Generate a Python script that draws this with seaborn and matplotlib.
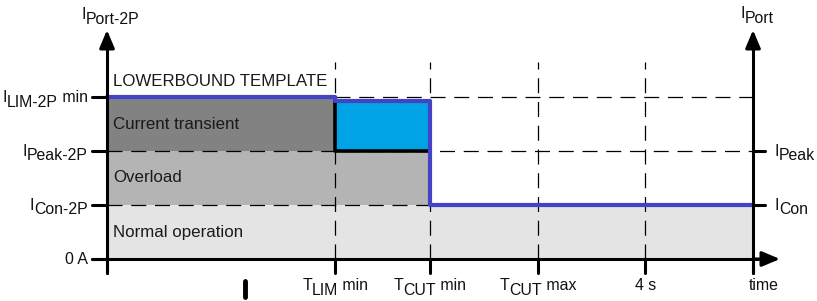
import matplotlib
matplotlib.use("Agg")
import matplotlib.pyplot as plt
import seaborn as sns
from matplotlib.patches import Rectangle

sns.set_theme(style="white")
plt.rcParams['font.family'] = ['Liberation Sans', 'DejaVu Sans']

# ---- data ----
time_pos = [0, 2.12, 3, 4, 5, 6]
time_labels = [None,
               [("T", 0), ("LIM", 5), (" min", 0)],
               [("T", 0), ("CUT", 5), (" min", 0)],
               [("T", 0), ("CUT", 5), (" max", 0)],
               [("4 s", 0)],
               [("time", 0)]]
levels = [0, 1, 2, 3]
left_labels = [[("0 A", 0)],
               [("I", 0), ("Con-2P", 5)],
               [("I", 0), ("Peak-2P", 5)],
               [("I", 0), ("LIM-2P", 5), (" min", 0)]]
right_levels = [1, 2]
right_labels = [[("I", 0), ("Con", 5)], [("I", 0), ("Peak", 5)]]
left_axis_title = [("I", 0), ("Port-2P", 5)]
right_axis_title = [("I", 0), ("Port", 5)]
template_x = [0, 2.12, 2.12, 3, 3, 6]
template_y = [3, 3, 2.93, 2.93, 1, 1]
limit_x = [2.12, 2.12, 3]
limit_y = [3, 2, 2]
region_names = ["Normal operation", "Overload", "Current transient"]
region_x_end = [6, 3, 2.12]
region_colors = ["#e4e4e4", "#b4b4b4", "#828282"]

# ---- figure ----
fig = plt.figure(figsize=(8.17, 3.01), dpi=100)
ax = fig.add_axes([0, 0, 1, 1])
PXX, PXY = 107.67, 54.0
ax.set_xlim(-107 / PXX, (817 - 107) / PXX)
ax.set_ylim(-(301 - 259) / PXY, 259 / PXY)
ax.axis("off")
renderer = fig.canvas.get_renderer()
FS = 11.4


def label(x, y_px_baseline_offset, yv, pieces, ha="left"):
    """Draw text pieces with lowered subscripts, baseline at data y minus offset pixels."""
    texts = []
    for s, dy in pieces:
        t = ax.annotate(s, (x, yv), xytext=(0, -y_px_baseline_offset - dy),
                        textcoords="offset pixels", fontsize=FS, ha="left",
                        va="baseline", color="#111111", annotation_clip=False)
        texts.append(t)
    widths = [t.get_window_extent(renderer).width for t in texts]
    total = sum(widths)
    start = {"left": 0, "right": -total, "center": -total / 2}[ha]
    for t, w, (s, dy) in zip(texts, widths, pieces):
        t.set_position((start, -y_px_baseline_offset - dy))
        start += w


for i, (name, xe, c) in enumerate(zip(region_names, region_x_end, region_colors)):
    ax.add_patch(Rectangle((0, levels[i]), xe, 1, facecolor=c, edgecolor="none", zorder=1))
    ax.text(0.06, levels[i] + 0.5, name, fontsize=12.2, va="center", ha="left",
            color="#1a1a1a", zorder=5)
ax.add_patch(Rectangle((2.12, 2), 0.88, 0.93, facecolor="#00a3e6", edgecolor="none", zorder=1))
ax.text(0.06, 3.28, "LOWERBOUND TEMPLATE", fontsize=12.2, va="center", ha="left",
        color="#1a1a1a")

# dashed grid
dash = dict(color="black", lw=0.9, ls=(0, (12, 7)), zorder=2)
for x in time_pos[1:5]:
    ax.plot([x, x], [0, 3.65], **dash)
ax.plot([2.12, 6], [3, 3], **dash)
ax.plot([0, 6], [2, 2], **dash)
ax.plot([0, 6], [1, 1], **dash)

# limit line (black) and template line (blue)
sns.lineplot(x=limit_x, y=limit_y, sort=False, estimator=None, color="black",
             lw=2.6, ax=ax, zorder=3)
sns.lineplot(x=template_x, y=template_y, sort=False, estimator=None, color="#4343c8",
             lw=3.0, ax=ax, zorder=4)

# axes
alw = 2.2
ax.plot([0, 0], [-0.26, 3.95], color="black", lw=alw, zorder=6)
ax.plot([6, 6], [-0.26, 3.95], color="black", lw=alw, zorder=6)
ax.plot([-0.14, 6.05], [0, 0], color="black", lw=alw, zorder=6)
for (x0, y0, x1, y1) in [(0, 3.9, 0, 4.24), (6, 3.9, 6, 4.24), (6.0, 0, 6.25, 0)]:
    ax.annotate("", xy=(x1, y1), xytext=(x0, y0),
                arrowprops=dict(arrowstyle="-|>,head_length=0.9,head_width=0.38",
                                color="black", lw=alw, shrinkA=0, shrinkB=0), zorder=7)
for y, lab in zip(levels, left_labels):
    ax.plot([-0.14, 0], [y, y], color="black", lw=alw, zorder=6)
    label(-0.18, 4.5, y, lab, ha="right")
for y, lab in zip(right_levels, right_labels):
    ax.plot([6, 6.11], [y, y], color="black", lw=alw, zorder=6)
    label(6.2, 4.5, y, lab, ha="left")
for i, (x, lab) in enumerate(zip(time_pos, time_labels)):
    ax.plot([x, x], [0, -0.26], color="black", lw=alw, zorder=6)
    if lab:
        shift = 0.1 if i == len(time_pos) - 1 else 0
        label(x + shift, 31, 0, lab, ha="center")
label(-0.24, 0, 4.44, left_axis_title, ha="left")
label(5.88, 0, 4.46, right_axis_title, ha="left")
ax.plot([1.28, 1.28], [-0.4, -0.7], color="black", lw=3.5)

fig.savefig("out.png", dpi=100)
